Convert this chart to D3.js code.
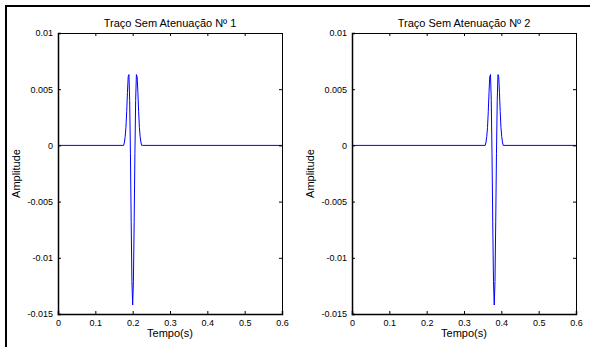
<!DOCTYPE html>
<html>
<head>
<meta charset="utf-8">
<script src="https://cdn.jsdelivr.net/npm/d3@7"></script>
<style>
  body { margin: 0; background: #fff; }
  svg { display: block; }
  text { font-family: "Liberation Sans", Arial, sans-serif; fill: #000; }
</style>
</head>
<body>
<div id="chart"></div>
<script>
// dados
var titulos = ["Traço Sem Atenuação Nº 1", "Traço Sem Atenuação Nº 2"];
var xTicks = [0, 0.1, 0.2, 0.3, 0.4, 0.5, 0.6];
var yTicks = [-0.015, -0.01, -0.005, 0, 0.005, 0.01];
var yTickLabels = ["-0.015", "-0.01", "-0.005", "0", "0.005", "0.01"];

// amostras da wavelet (mesma nos dois traços)
var amplitude = [0, 0, 0.0003, 0.0008, 0.0016, 0.003, 0.0047, 0.0061, 0.0063, 0.004, -0.0007, -0.0068, -0.0121,
  -0.0142, -0.0121, -0.0068, -0.0007, 0.004, 0.0063, 0.0061, 0.0047, 0.003, 0.0016, 0.0008, 0.0003, 0, 0, 0];

var tempo1 = [0, 0.176, 0.178, 0.180, 0.182, 0.184, 0.186, 0.188, 0.190, 0.192, 0.194, 0.196, 0.198,
  0.200, 0.202, 0.204, 0.206, 0.208, 0.210, 0.212, 0.214, 0.216, 0.218, 0.220, 0.222, 0.224, 0.226, 0.6];
var tempo2 = [0, 0.357, 0.359, 0.361, 0.363, 0.365, 0.367, 0.369, 0.371, 0.373, 0.375, 0.377, 0.379,
  0.381, 0.383, 0.385, 0.387, 0.389, 0.391, 0.393, 0.395, 0.397, 0.399, 0.401, 0.403, 0.405, 0.407, 0.6];

var tracos = [tempo1, tempo2];

var width = 590, height = 347;
var paineis = [{left: 58, right: 282}, {left: 352, right: 576}];
var plotTop = 33, plotBottom = 314;
var fonte = '"Liberation Sans", Arial, sans-serif';

var svg = d3.select('#chart').append('svg').attr('width', width).attr('height', height);

// moldura externa (só topo e esquerda aparecem)
svg.append('path')
  .attr('d', 'M6,' + height + 'V6H' + width)
  .attr('fill', 'none').attr('stroke', '#000').attr('stroke-width', 2);

paineis.forEach(function(p, i){
  var xs = d3.scaleLinear().domain([0, 0.6]).range([p.left, p.right]);
  var ys = d3.scaleLinear().domain([-0.015, 0.01]).range([plotBottom, plotTop]);
  var g = svg.append('g');

  // linha do traço
  var linha = d3.line()
    .x(function(d, k){ return xs(d); })
    .y(function(d, k){ return ys(amplitude[k]); });
  g.append('path')
    .datum(tracos[i])
    .attr('d', linha)
    .attr('fill', 'none')
    .attr('stroke', '#0000ff')
    .attr('stroke-width', 1);

  // caixa
  g.append('line').attr('x1', p.left).attr('x2', p.right).attr('y1', plotTop + 0.5).attr('y2', plotTop + 0.5)
    .attr('stroke', '#000').attr('stroke-width', 1);
  g.append('line').attr('x1', p.right + 0.5).attr('x2', p.right + 0.5).attr('y1', plotTop).attr('y2', plotBottom)
    .attr('stroke', '#000').attr('stroke-width', 1);

  // eixo x embaixo
  g.append('g')
    .attr('transform', 'translate(0,' + plotBottom + ')')
    .call(d3.axisBottom(xs).tickValues(xTicks).tickSize(-3).tickPadding(6).tickFormat(d3.format('')))
    .call(function(a){
      a.select('.domain').attr('stroke-width', 1.5);
      a.selectAll('text').attr('font-size', 9).attr('font-family', fonte);
    });
  // ticks do topo
  g.append('g')
    .attr('transform', 'translate(0,' + plotTop + ')')
    .call(d3.axisTop(xs).tickValues(xTicks).tickSize(-3).tickFormat(''))
    .call(function(a){ a.select('.domain').remove(); });

  // eixo y
  g.append('g')
    .attr('transform', 'translate(' + p.left + ',0)')
    .call(d3.axisLeft(ys).tickValues(yTicks).tickSize(-3).tickPadding(5)
      .tickFormat(function(d, k){ return yTickLabels[k]; }))
    .call(function(a){
      a.select('.domain').attr('stroke-width', 1.5);
      a.selectAll('text').attr('font-size', 9).attr('font-family', fonte);
    });
  g.append('g')
    .attr('transform', 'translate(' + p.right + ',0)')
    .call(d3.axisRight(ys).tickValues(yTicks).tickSize(-3).tickFormat(''))
    .call(function(a){ a.select('.domain').remove(); });

  // textos
  var cx = (p.left + p.right) / 2;
  g.append('text').attr('x', cx).attr('y', 27).attr('text-anchor', 'middle')
    .attr('font-size', 11).text(titulos[i]);
  g.append('text').attr('x', cx).attr('y', 337).attr('text-anchor', 'middle')
    .attr('font-size', 11).text('Tempo(s)');
  g.append('text')
    .attr('transform', 'translate(' + (p.left - 38) + ',' + ((plotTop + plotBottom) / 2) + ') rotate(-90)')
    .attr('text-anchor', 'middle').attr('font-size', 11).text('Amplitude');
});
</script>
</body>
</html>
